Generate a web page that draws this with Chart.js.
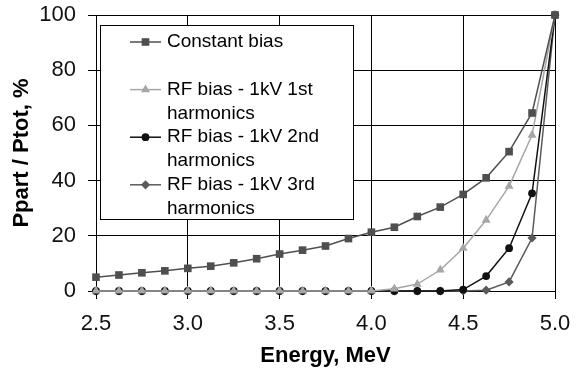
<!DOCTYPE html>
<html>
<head>
<meta charset="utf-8">
<script src="https://cdn.jsdelivr.net/npm/chart.js@4/dist/chart.umd.min.js"></script>
<style>
  html, body { margin: 0; padding: 0; background: #fff; }
  #wrap { width: 576px; height: 369px; }
</style>
</head>
<body>
<div id="wrap"><canvas id="ppart" width="576" height="369"></canvas></div>
<script>
var energy = [2.5, 2.625, 2.75, 2.875, 3.0, 3.125, 3.25, 3.375, 3.5, 3.625, 3.75, 3.875, 4.0, 4.125, 4.25, 4.375, 4.5, 4.625, 4.75, 4.875, 5.0];
var constantBias = [5, 5.8, 6.6, 7.3, 8.2, 9.0, 10.2, 11.7, 13.4, 14.8, 16.3, 19.0, 21.3, 23.1, 27.0, 30.4, 35.0, 41.0, 50.5, 64.5, 100];
var rf1st = [0, 0, 0, 0, 0, 0, 0, 0, 0, 0, 0, 0, 0, 0.8, 2.5, 7.6, 15.5, 25.7, 38.0, 56.5, 100];
var rf2nd = [0, 0, 0, 0, 0, 0, 0, 0, 0, 0, 0, 0, 0, 0, 0, 0, 0.5, 5.4, 15.5, 35.4, 100];
var rf3rd = [0, 0, 0, 0, 0, 0, 0, 0, 0, 0, 0, 0, 0, 0, 0, 0, 0, 0.3, 3.3, 19.2, 100];
var seriesNames = [["Constant bias"], ["RF bias - 1kV 1st", "harmonics"], ["RF bias - 1kV 2nd", "harmonics"], ["RF bias - 1kV 3rd", "harmonics"]];
var xTicks = [2.5, 3.0, 3.5, 4.0, 4.5, 5.0];
var yTicks = [0, 20, 40, 60, 80, 100];

function pts(values) {
    return values.map(function(v, i) { return { x: energy[i], y: v }; });
}

var fontFamily = '"Liberation Sans", Arial, sans-serif';
var styles = [
    { color: '#4f4f4f', point: 'rect', radius: 5.4 },
    { color: '#a6a6a6', point: 'triangle', radius: 5.2 },
    { color: '#111111', point: 'circle', radius: 3.9 },
    { color: '#5a5a5a', point: 'rectRot', radius: 4.6 }
];
var allSeries = [constantBias, rf1st, rf2nd, rf3rd];

var datasets = allSeries.map(function(vals, i) {
    return {
        label: seriesNames[i].join(' '),
        data: pts(vals),
        borderColor: styles[i].color,
        backgroundColor: styles[i].color,
        borderWidth: 1.5,
        pointStyle: styles[i].point,
        pointRadius: styles[i].radius,
        pointBorderWidth: 0,
        tension: 0,
        clip: false
    };
});

// legend box drawn by hand so the labels can wrap onto two lines
var boxLegend = {
    id: 'boxLegend',
    afterDraw: function(chart) {
        var ctx = chart.ctx;
        ctx.save();
        ctx.fillStyle = '#fff';
        ctx.fillRect(100.5, 25.5, 253, 194);
        ctx.strokeStyle = '#000';
        ctx.lineWidth = 1;
        ctx.strokeRect(100.5, 25.5, 253, 194);
        var rows = [0, 2, 4, 6];
        ctx.font = '19px ' + fontFamily;
        ctx.textBaseline = 'middle';
        seriesNames.forEach(function(lines, i) {
            var y = 42 + rows[i] * 23.8;
            var st = styles[i];
            ctx.strokeStyle = st.color;
            ctx.lineWidth = 1.5;
            ctx.beginPath();
            ctx.moveTo(130, y);
            ctx.lineTo(161, y);
            ctx.stroke();
            ctx.fillStyle = st.color;
            ctx.beginPath();
            var r = st.radius;
            if (st.point === 'rect') {
                var s = r * Math.SQRT1_2;
                ctx.rect(145.5 - s, y - s, 2 * s, 2 * s);
            } else if (st.point === 'triangle') {
                ctx.moveTo(145.5, y - r);
                ctx.lineTo(145.5 + r * 0.866, y + r * 0.5);
                ctx.lineTo(145.5 - r * 0.866, y + r * 0.5);
                ctx.closePath();
            } else if (st.point === 'circle') {
                ctx.arc(145.5, y, r, 0, Math.PI * 2);
            } else {
                ctx.moveTo(145.5, y - r);
                ctx.lineTo(145.5 + r, y);
                ctx.lineTo(145.5, y + r);
                ctx.lineTo(145.5 - r, y);
                ctx.closePath();
            }
            ctx.fill();
            ctx.fillStyle = '#000';
            lines.forEach(function(t, k) {
                ctx.fillText(t, 167, y + k * 23.8);
            });
        });
        ctx.restore();
    }
};

var chart = new Chart(document.getElementById('ppart'), {
    type: 'line',
    data: { datasets: datasets },
    plugins: [boxLegend],
    options: {
        responsive: false,
        animation: false,
        layout: { padding: { top: 15, right: 21, left: 0, bottom: 0 } },
        plugins: {
            legend: { display: false },
            tooltip: { enabled: false }
        },
        scales: {
            x: {
                type: 'linear',
                min: 2.5,
                max: 5.0,
                afterBuildTicks: function(scale) {
                    scale.ticks = xTicks.map(function(v) { return { value: v }; });
                },
                afterFit: function(scale) {
                    scale.height = 78;
                    scale.paddingLeft = 0;
                    scale.paddingRight = 0;
                },
                grid: { color: '#000', lineWidth: 1, tickLength: 8, tickColor: '#000' },
                border: { color: '#000', width: 1 },
                ticks: {
                    color: '#111',
                    padding: 12,
                    maxRotation: 0,
                    font: { family: fontFamily, size: 22 },
                    callback: function(v) { return Number(v).toFixed(1); }
                },
                title: {
                    display: true,
                    text: 'Energy, MeV',
                    color: '#000',
                    padding: { top: 0, bottom: 0 },
                    font: { family: fontFamily, size: 22, weight: 'bold' }
                }
            },
            y: {
                min: 0,
                max: 100,
                afterBuildTicks: function(scale) {
                    scale.ticks = yTicks.map(function(v) { return { value: v }; });
                },
                afterFit: function(scale) {
                    scale.width = 96;
                    scale.paddingTop = 0;
                    scale.paddingBottom = 0;
                },
                grid: { color: '#000', lineWidth: 1, tickLength: 8, tickColor: '#000' },
                border: { color: '#000', width: 1 },
                ticks: {
                    color: '#111',
                    padding: 12,
                    font: { family: fontFamily, size: 22 }
                },
                title: {
                    display: true,
                    text: 'Ppart / Ptot, %',
                    color: '#000',
                    padding: { top: 9, bottom: 0 },
                    font: { family: fontFamily, size: 22, weight: 'bold' }
                }
            }
        }
    }
});
</script>
</body>
</html>
